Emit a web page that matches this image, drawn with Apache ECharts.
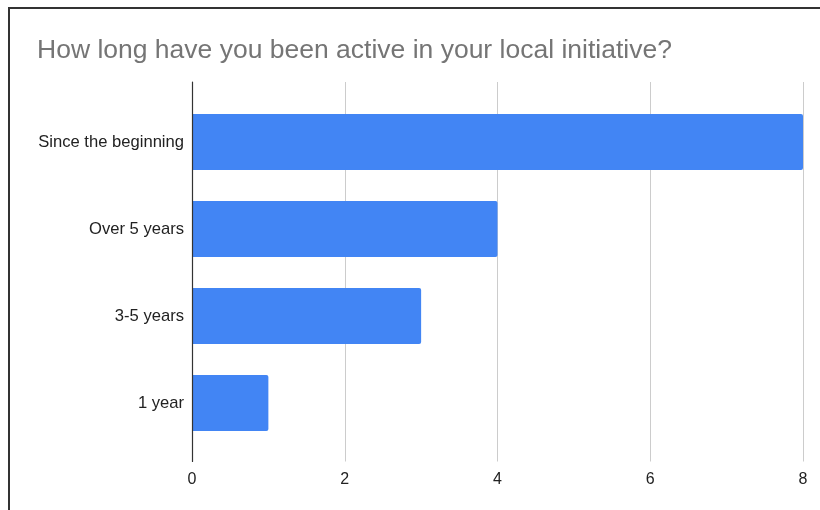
<!DOCTYPE html>
<html>
<head>
<meta charset="utf-8">
<script src="https://cdn.jsdelivr.net/npm/echarts@6/dist/echarts.min.js"></script>
<style>
  html, body { margin: 0; padding: 0; background: #fff; }
  #chart { position: absolute; left: 0; top: 0; width: 820px; height: 510px; }
  #frame { position: absolute; left: 8px; top: 7px; width: 830px; height: 530px;
           border-left: 2px solid #333; border-top: 2px solid #333; pointer-events: none; }
</style>
</head>
<body>
<div id="chart"></div>
<div id="frame"></div>
<script>
// Survey answers and their response counts
const categories = ['Since the beginning', 'Over 5 years', '3-5 years', '1 year'];
const counts = [8, 4, 3, 1];
const tickMax = 8;
const tickStep = 2;
const titleText = 'How long have you been active in your local initiative?';

const chart = echarts.init(document.getElementById('chart'), null, { renderer: 'canvas' });

chart.setOption({
  animation: false,
  title: {
    text: titleText,
    left: 37,
    top: 37,
    padding: 0,
    textStyle: { fontFamily: 'Liberation Sans, Arial, sans-serif', fontSize: 26.5, fontWeight: 'normal', color: '#757575' }
  },
  grid: [
    // bars
    { left: 192, right: 17, top: 98.5, bottom: 63.5 },
    // vertical gridlines and tick labels span a little further
    { left: 192, right: 17, top: 82, bottom: 48.5 }
  ],
  xAxis: [
    { gridIndex: 0, type: 'value', min: 0, max: tickMax, show: false },
    {
      gridIndex: 1, type: 'value', min: 0, max: tickMax, interval: tickStep,
      axisLine: { show: false }, axisTick: { show: false },
      splitLine: { show: true, lineStyle: { color: '#cccccc', width: 1 } },
      axisLabel: { margin: 10, fontFamily: 'Liberation Sans, Arial, sans-serif', fontSize: 16, color: '#222' }
    }
  ],
  yAxis: [
    {
      gridIndex: 0, type: 'category', data: categories, inverse: true,
      axisLine: { show: false }, axisTick: { show: false },
      axisLabel: { margin: 8, fontFamily: 'Liberation Sans, Arial, sans-serif', fontSize: 16.6, color: '#222' }
    },
    {
      gridIndex: 1, type: 'value', min: 0, max: 1,
      axisLine: { show: true, onZero: false, lineStyle: { color: '#333', width: 1.2 } },
      axisTick: { show: false }, axisLabel: { show: false }, splitLine: { show: false }, z: 5
    }
  ],
  series: [{
    type: 'bar',
    xAxisIndex: 0,
    yAxisIndex: 0,
    data: counts,
    barWidth: '64.5%',
    itemStyle: { color: '#4285f4', borderRadius: [0, 2, 2, 0] },
    z: 2
  }]
});
</script>
</body>
</html>
